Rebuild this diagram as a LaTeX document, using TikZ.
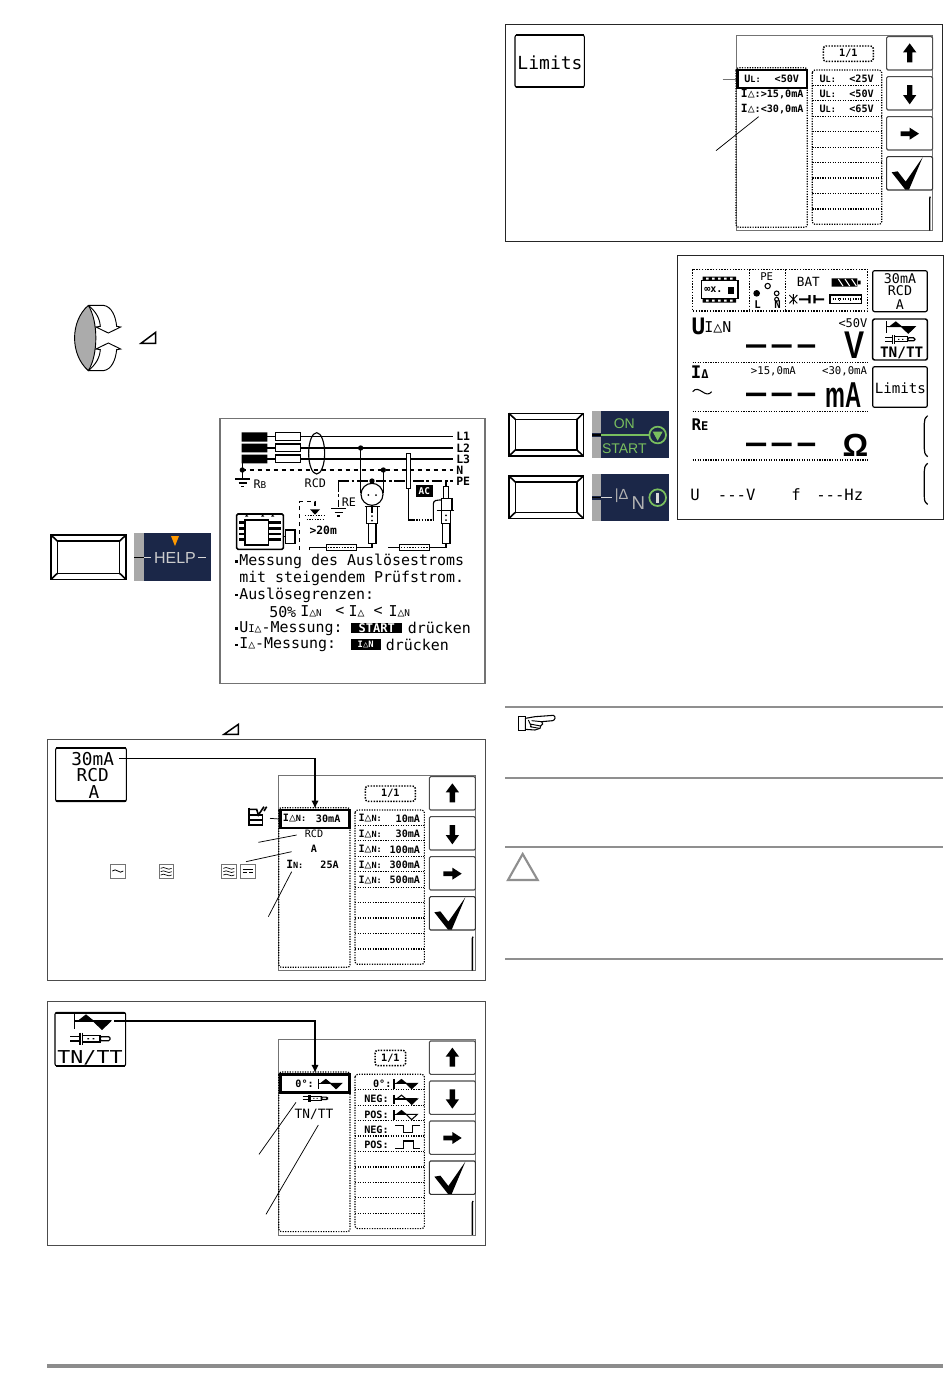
\documentclass[tikz,border=0pt]{standalone}
\usepackage{fontspec}
\usetikzlibrary{arrows.meta}
\setmainfont{Liberation Sans}
\newfontfamily\lcd{DejaVu Sans Mono}
\definecolor{navy}{HTML}{1B2748}
\definecolor{keygray}{HTML}{A9A9A9}
\definecolor{lcdgreen}{HTML}{79BE5E}
\definecolor{ruleg}{HTML}{8F8F8F}
\newcommand{\fsz}[1]{\fontsize{#1}{#1}\selectfont}
\newcommand{\dl}{{\fsz{8.6}△}}
\newcounter{tn}
\newcommand{\lcdt}[4][]{\stepcounter{tn}\node[lt,#1] (t\thetn) at ({#2},{#3}) {#4};}
\tikzset{
  z/.style 2 args={shift={(#1,#2)},x=.25pt,y=-.25pt},
  lt/.style={inner sep=0pt,font=\lcd\fsz{7.6}\bfseries},
  hf/.style={inner sep=0pt,anchor=west,font=\lcd\fsz{11.2}},
  sk/.style={inner sep=0pt,font=\lcd\fsz{13.3}},
  rk/.style={inner sep=0pt,font=\lcd\fsz{10}},
  panel/.style={draw=black!70,line width=.65pt},
  dots/.style={densely dotted,line width=.9pt},
  kl/.style={line width=1.2pt,draw=black},
  leader/.style={line width=.55pt},
  conn/.style={line width=1.1pt,-{Latex[length=6pt,width=5.5pt]}},
  diag/.style={line width=.85pt}
}
% screen with the four side keys
\newcommand{\menuscreen}[5]{\begin{scope}[z={#2}{#3}]
  \draw[draw=black!55,line width=.7pt] (0,0) rectangle (589,587);
  \foreach \yy in {5,125,245}{\draw[draw=black!70,fill=white,line width=.8pt,rounded corners=1pt] (452,\yy) rectangle (590,\yy+100);}
  \draw[draw=black!80,fill=white,line width=.8pt,rounded corners=1pt] (452,365) rectangle (590,465);
  \fill (521,25)--(541,52)--(529,52)--(529,82)--(513,82)--(513,52)--(501,52)--cycle;
  \fill (521,208)--(541,180)--(529,180)--(529,150)--(513,150)--(513,180)--(501,180)--cycle;
  \fill (549,296)--(521,278)--(521,289)--(494,289)--(494,303)--(521,303)--(521,314)--cycle;
  \fill (467,412)--(485,409)--(509,440)--(560,367)--(519,464)--(508,464)--cycle;
  \draw[line width=1pt] (581,587)--(581,490)--(583,485);
  \draw[dots,line width=1.1pt,rounded corners=2pt] (#4,33) rectangle (#5,79);
  \lcdt{(#4+#5)/2}{56}{1/1}
  \draw[dots,rounded corners=2pt] (0,98) rectangle (214,577);
  \draw[dots,rounded corners=2pt] (229,105) rectangle (437,568);
  \foreach \k in {1,...,9}{\draw[dots] (229,105+46.3*\k)--(437,105+46.3*\k);}
  \node[draw,fill=white,line width=1.9pt,minimum width=52pt,minimum height=13.6pt,inner sep=0pt] (#1-sel) at (109,132) {};
\end{scope}}
\newcommand{\softkey}[4]{\draw[line width=.8pt,rounded corners=1.5pt] (#1,#2) rectangle (#3,#4);
  \draw[line width=1.6pt] (#1+2,#2+1)--(#3-2,#2+1); \draw[line width=1.6pt] (#1+2,#4-1)--(#3-2,#4-1);}
\newcommand{\blankkey}[4]{\draw[kl] (#1,#2) rectangle (#3,#4);
  \draw[kl] (#1+19,#2+18) rectangle (#3-19,#4-18);
  \draw[kl] (#1,#2)--(#1+19,#2+18) (#3,#2)--(#3-19,#2+18) (#1,#4)--(#1+19,#4-18) (#3,#4)--(#3-19,#4-18);}
\newcommand{\waveicon}[5]{\begin{scope}[shift={(#1,#2)},scale=#3]
  \draw[line width=.9pt] (0,-20)--(0,25);
  \draw[line width=.8pt,fill=#4] (12,0)--(35,-18)--(57,0)--cycle;
  \draw[line width=.8pt,fill=#5] (57,0)--(83,25)--(109,0)--cycle;
  \draw[line width=.9pt] (0,0)--(109,0);
\end{scope}}
\newcommand{\plugicon}[3]{\begin{scope}[shift={(#1,#2)},scale=#3]
  \draw[line width=.8pt] (-60,-7)--(-30,-7) (-60,7)--(-30,7);
  \draw[line width=1.1pt] (-30,-18)--(-30,18) (-23,-18)--(-23,18);
  \draw[line width=.9pt] (-23,-10) rectangle (30,10);
  \fill (-8,-2) rectangle (-3,2) (8,-2) rectangle (13,2);
  \draw[line width=.9pt,rounded corners=1pt] (30,-6) rectangle (60,6);
\end{scope}}
\newcommand{\navkey}[5]{\fill[navy] (#1,#2) rectangle (#3,#4);
  \fill[keygray] (#1,#2) rectangle (#1+#5,#4);}
\newcommand{\gndsym}[2]{\draw[diag] (#1-23,#2)--(#1+23,#2) (#1-12,#2+12)--(#1+12,#2+12) (#1-4,#2+23)--(#1+4,#2+23);}
\newcommand{\resistor}[3]{\draw[line width=.7pt,fill=white] (#1,#3-8) rectangle (#2,#3+8);
  \draw[line width=1.1pt,densely dotted] (#1+5,#3)--(#2-5,#3);}
\newcommand{\sinewave}[5][.6pt]{\draw[line width=#1] (#2,#3) .. controls (#2+.33*#4,#3-#5) and (#2+.67*#4,#3+#5) .. (#2+#4,#3);}
\begin{document}
\begin{tikzpicture}[x=.75pt,y=-.75pt]
\useasboundingbox (0,0) rectangle (950,1379);
\fill[white] (0,0) rectangle (950,1379);

% ---------------- rotary switch
\begin{scope}[z={65}{298}]
  \draw[line width=.7pt,fill=black!33] (70,22) .. controls (15,70) and (15,170) .. (70,218) .. controls (100,170) and (100,70) .. (70,22);
  \draw[line width=.7pt,fill=white] (70,22)--(115,22) .. controls (140,25) and (152,55) .. (155,85)--(167,87)--(130,105)--(93,87)--(106,85) .. controls (104,60) and (92,40) .. (70,22);
  \draw[line width=.7pt,fill=white] (70,218)--(115,218) .. controls (140,215) and (152,185) .. (155,155)--(167,153)--(130,135)--(93,153)--(106,155) .. controls (104,180) and (92,200) .. (70,218);
\end{scope}
% ---------------- HELP key and help screen
\begin{scope}[z={40}{280}]
  \draw[line width=1.1pt,line join=miter] (303,190)--(347,190)--(347,157)--cycle;
  \blankkey{33}{765}{258}{898}
  \navkey{282}{760}{514}{902}{30}
  \draw[line width=1pt] (282,832)--(312,832);
  \draw[draw=black!15,line width=1pt] (312,832)--(332,832) (474,832)--(497,832);
  \fill[orange!80!yellow] (393,768)--(417,768)--(405,798)--cycle;
  \node[inner sep=0pt,text=black!20,font=\fsz{12}] (helptxt) at (405,834) {HELP};
  % help screen
  \draw[draw=black!55,line width=.8pt] (540,415) rectangle (1335,1210);
  % mains
  \fill (605,457) rectangle (682,485) (605,491) rectangle (682,517) (605,524) rectangle (682,550);
  \draw[diag] (682,470)--(1240,470) (682,504)--(1240,504) (682,537)--(1240,537);
  \draw[diag,fill=white] (706,458) rectangle (782,482) (706,492) rectangle (782,515) (706,525) rectangle (782,548);
  \draw[diag,dashed] (605,570)--(1240,570);
  \draw[diag,dash pattern=on 8pt off 2pt on 2pt off 2pt] (895,603)--(1240,603);
  \draw[diag,dash pattern=on 8pt off 2pt on 2pt off 2pt] (895,603)--(895,680);
  \draw[diag] (830,520) ellipse (24 and 62);
  \draw[diag] (607,550)--(607,597);
  \fill (607,570) circle (8) (962,504) circle (8) (1030,570) circle (8) (996,603) circle (8);
  \gndsym{608}{597}\gndsym{896}{685}
  \lcdt[anchor=west,font=\lcd\fsz{8.8}]{640}{612}{R\fsz{7}B}
  \lcdt[font=\lcd\fsz{8.8}]{826}{610}{RCD}
  \lcdt[anchor=west,font=\lcd\fsz{8.8}]{905}{668}{RE}
  \foreach \tx/\ty in {L1/470,L2/504,L3/537,N/570,PE/603}{\lcdt[anchor=west,font=\lcd\fsz{8.6}\bfseries]{1248}{\ty}{\tx}}
  % socket, left probe
  \draw[diag] (962,504)--(962,640) (1030,570)--(1030,640) (996,603)--(996,615);
  \draw[diag,fill=white] (996,643) circle (33);
  \fill (985,645) circle (3) (1008,645) circle (3);
  \draw[diag] (996,676)--(996,700);
  \draw[line width=1.1pt] (974,680)--(1020,680);
  \draw[diag] (980,680)--(980,730)--(1012,730)--(1012,680) (985,730) rectangle (1008,790);
  \fill (996,708) circle (3) (996,722) circle (3);
  \draw[diag] (996,790)--(996,802)--(948,802);
  \resistor{858}{948}{802}
  \draw[diag] (808,810)--(808,802)--(858,802);
  % right branch
  \draw[diag,fill=white] (1100,520) rectangle (1112,625);
  \draw[diag] (1106,625)--(1106,720)--(1120,720);
  \draw[line width=1.1pt,densely dotted] (1120,720)--(1180,720);
  \draw[diag] (1180,720)--(1180,672) (1180,672) .. controls (1180,660) and (1190,660) .. (1208,660);
  \draw[diag] (1218,603)--(1218,620);
  \draw[diag,fill=white] (1210,620) rectangle (1226,655);
  \draw[diag,fill=white] (1204,655) rectangle (1236,692);
  \draw[line width=1.1pt] (1190,692)--(1242,692);
  \draw[diag,fill=white] (1204,692) rectangle (1232,730);
  \draw[diag,fill=white] (1208,730) rectangle (1230,790);
  \fill (1218,706) circle (3) (1218,720) circle (3);
  \draw[diag] (1218,790)--(1218,802)--(1168,802);
  \resistor{1078}{1168}{802}
  \draw[diag] (1045,802)--(1078,802);
  \fill (1128,615) rectangle (1178,650);
  \lcdt[text=white,font=\lcd\fsz{7}\bfseries]{1153}{633}{AC}
  % earth electrode
  \draw[diag,dashed] (778,810)--(778,665)--(825,665)--(825,690);
  \fill (825,704)--(810,688)--(840,688)--cycle;
  \draw[line width=1pt,densely dotted] (795,707)--(855,707);
  \draw[line width=1pt,densely dotted] (800,718)--(850,718);
  \lcdt[anchor=west,font=\lcd\fsz{8.5}\bfseries]{808}{751}{>20m}
  % instrument
  \draw[line width=1.2pt,rounded corners=1pt] (590,702) rectangle (730,808);
  \draw[line width=1pt] (615,720) rectangle (685,795);
  \foreach \yb in {728,745,762,779}{\draw[line width=1.8pt] (597,\yb)--(615,\yb) (688,\yb)--(722,\yb);}
  \draw[line width=1pt,fill=white] (737,750) rectangle (765,790);
  \draw[line width=1pt] (730,770)--(737,770);
  \foreach \xb in {620,668,698}{\fill (\xb,703)--(\xb-5,710)--(\xb+5,710)--cycle;}
  % help text
  \foreach \yb in {845,945,1045,1095}{\fill (584,\yb-4) rectangle (593,\yb+4);}
  \lcdt[hf]{597}{845}{Messung des Auslösestroms}
  \lcdt[hf]{597}{895}{mit steigendem Prüfstrom.}
  \lcdt[hf]{597}{945}{Auslösegrenzen:}
  \lcdt[hf]{687}{995}{50\%}
  \lcdt[hf]{780}{995}{I\dl{}\fsz{7}N}
  \lcdt[hf]{885}{995}{<}
  \lcdt[hf]{925}{995}{I\dl}
  \lcdt[hf]{1000}{995}{<}
  \lcdt[hf]{1045}{995}{I\dl{}\fsz{7}N}
  \lcdt[hf]{597}{1045}{U\fsz{8}I\dl{}\fsz{11.2}-Messung:}
  \fill (933,1028) rectangle (1087,1060);
  \lcdt[text=white,font=\lcd\fsz{9}\bfseries]{1010}{1044}{START}
  \lcdt[hf]{1103}{1045}{drücken}
  \lcdt[hf]{597}{1095}{I\dl{}-Messung:}
  \fill (933,1078) rectangle (1022,1110);
  \lcdt[text=white,font=\lcd\fsz{6.6}\bfseries]{977}{1094}{I{\fsz{6.6}△}N}
  \lcdt[hf]{1037}{1095}{drücken}
\end{scope}

% ---------------- panel 1
\begin{scope}[z={40}{715}]
  \draw[line width=1.1pt,line join=miter] (552,58)--(595,58)--(595,28)--cycle;
  \draw[panel] (22,72) rectangle (1335,795);
\end{scope}
\menuscreen{a}{278.7}{775}{260}{410}
\begin{scope}[z={40}{715}]
  \softkey{47}{98}{259}{260}
  \lcdt[sk]{158}{132}{30mA}
  \lcdt[sk]{158}{180}{RCD}
  \lcdt[sk]{162}{232}{A}
  \coordinate (a1) at (238,130);
  \draw[conn] (a1) -| (a-sel.north);
  \foreach \row/\val in {310/10mA,357/30mA,403/100mA,449/300mA,495/500mA}{
    \lcdt[anchor=west]{955}{\row}{I\dl{}\fsz{6.4}N:}
    \lcdt[anchor=east]{1141}{\row}{\val}}
  \lcdt[anchor=west]{728}{310}{I\dl{}\fsz{6.4}N:}
  \lcdt[anchor=east]{902}{310}{30mA}
  \lcdt[font=\lcd\fsz{7.6}]{822}{357}{RCD}
  \lcdt{822}{402}{A}
  \lcdt[anchor=west]{738}{448}{\fsz{8.5}I\fsz{6.4}N:}
  \lcdt[anchor=east]{897}{448}{25A}
  % memory icon
  \draw[line width=1.2pt] (627,278)--(627,330)--(668,330)--(668,300)--(627,300) (627,315)--(668,315);
  \draw[line width=1.2pt] (627,283)--(650,283)--(655,300)--(672,275)(680,275)--(672,288);
  \coordinate (a2) at (690,310); \draw[leader] (a2)--(a-sel.west);
  \coordinate (a3) at (655,382); \coordinate (a4) at (770,360); \draw[leader] (a3)--(a4);
  \coordinate (a5) at (618,440); \coordinate (a6) at (755,410); \draw[leader] (a5)--(a6);
  \coordinate (a7) at (685,605); \coordinate (a8) at (755,470); \draw[leader] (a7)--(a8);
  % current types
  \foreach \xb in {212,357,545,602}{\draw[draw=black!55,line width=.7pt] (\xb,447) rectangle (\xb+43,490);}
  \sinewave{217}{468}{33}{12}
  \foreach \xb in {362,550}{\sinewave[.5pt]{\xb}{460}{33}{9}\sinewave[.5pt]{\xb}{470}{33}{9}\sinewave[.5pt]{\xb}{480}{33}{9}}
  \draw[line width=.7pt] (608,464)--(640,464); \draw[line width=.7pt,densely dashed] (608,473)--(640,473);
\end{scope}

% ---------------- panel 2
\begin{scope}[z={40}{995}] \draw[panel] (22,18) rectangle (1335,750); \end{scope}
\menuscreen{b}{278.7}{1039.3}{289}{381}
\begin{scope}[z={40}{995}]
  \softkey{45}{52}{257}{213}
  \waveicon{103}{78}{1}{black}{black}
  \plugicon{150}{131}{1}
  \lcdt[sk,font=\lcd\fsz{13.3},xscale=1.22]{150}{188}{TN/TT}
  \coordinate (b1) at (222,78);
  \draw[conn] (b1) -| (b-sel.north);
  \lcdt[anchor=east]{822}{265}{0°:}
  \waveicon{835}{265}{.64}{black}{black}
  \plugicon{825}{310}{.62}
  \lcdt[font=\lcd\fsz{9.6}]{822}{358}{TN/TT}
  \coordinate (b2) at (657,478); \coordinate (b3) at (768,322); \draw[leader] (b2)--(b3);
  \coordinate (b4) at (678,658); \coordinate (b5) at (835,390); \draw[leader] (b4)--(b5);
  \lcdt[anchor=east]{1055}{265}{0°:}
  \waveicon{1062}{265}{.64}{black}{black}
  \lcdt[anchor=west]{972}{312}{NEG:}
  \waveicon{1062}{312}{.64}{white}{black}
  \lcdt[anchor=west]{972}{358}{POS:}
  \waveicon{1062}{358}{.64}{black}{white}
  \lcdt[anchor=west]{972}{403}{NEG:}
  \draw[line width=.9pt] (1065,392)--(1090,392)--(1090,412)--(1118,412)--(1118,392)--(1140,392);
  \lcdt[anchor=west]{972}{450}{POS:}
  \draw[line width=.9pt] (1065,460)--(1090,460)--(1090,438)--(1120,438)--(1120,460)--(1140,460);
\end{scope}

% ---------------- panel 3
\begin{scope}[z={500}{20}] \draw[draw=black!85,line width=.65pt] (15,12) rectangle (1328,663); \end{scope}
\menuscreen{c}{736}{35}{262}{412}
\begin{scope}[z={500}{20}]
  \softkey{45}{45}{253}{202}
  \lcdt[sk,font=\lcd\fsz{13.5}]{150}{128}{Limits}
  \lcdt[anchor=west]{732}{176}{U\fsz{6.4}L:}
  \lcdt[anchor=east]{898}{176}{<50V}
  \lcdt[anchor=west]{722}{221}{\fsz{8.5}I\dl{}\fsz{7.6}:>15,0mA}
  \lcdt[anchor=west]{722}{267}{\fsz{8.5}I\dl{}\fsz{7.6}:<30,0mA}
  \foreach \row/\val in {176/25V,222/50V,267/65V}{
    \lcdt[anchor=west]{958}{\row}{U\fsz{6.4}L:}
    \lcdt[anchor=east]{1122}{\row}{<\val}}
  \coordinate (c1) at (668,177); \draw[leader,draw=black!55] (c1)--(c-sel.west);
  \coordinate (c2) at (648,392); \coordinate (c3) at (776,290); \draw[leader] (c2)--(c3);
\end{scope}

% ---------------- measuring display, keys
\begin{scope}[z={500}{250}]
  \blankkey{27}{490}{250}{618}
  \blankkey{27}{678}{250}{805}
  \navkey{276}{484}{508}{623}{27}
  \fill[navy] (276,550) rectangle (303,561);
  \draw[line width=1pt] (276,555)--(303,555);
  \draw[draw=lcdgreen,line width=1.5pt] (303,555)--(448,555);
  \draw[draw=lcdgreen,line width=1.3pt] (473,555) circle (25);
  \fill[lcdgreen] (458,545)--(488,545)--(473,572)--cycle;
  \node[inner sep=0pt,text=lcdgreen,font=\fsz{10.5}] (ontxt) at (373,522) {ON};
  \node[inner sep=0pt,text=lcdgreen,font=\fsz{10.5}] (starttxt) at (373,595) {START};
  \navkey{276}{673}{508}{812}{27}
  \fill[navy] (276,738) rectangle (303,749);
  \draw[line width=1pt] (276,743)--(303,743);
  \draw[draw=black!15,line width=1pt] (303,743)--(335,743);
  \node[inner sep=0pt,text=black!30,font=\fsz{11}] (idtxt) at (365,738) {|Δ};
  \node[inner sep=0pt,text=black!30,font=\fsz{14}] (idn) at (415,760) {N};
  \draw[draw=lcdgreen,line width=1.3pt] (473,743) circle (25);
  \draw[draw=black!15,line width=2pt] (473,728)--(473,758);
  % screen
  \draw[draw=black!85,line width=.7pt] (533,15) rectangle (1330,808);
  \draw[dots,line width=1.1pt] (578,58) rectangle (1103,183);
  \draw[dots,line width=1.1pt] (748,58)--(748,183) (857,58)--(857,183);
  % chip icon
  \draw[line width=1.1pt] (604,92) rectangle (714,146);
  \fill (608,80) rectangle (708,92) (608,146) rectangle (708,158);
  \foreach \xb in {622,640,658,676,694}{\fill[white] (\xb-4,83) rectangle (\xb+4,89) (\xb-4,149) rectangle (\xb+4,155);}
  \lcdt[font=\lcd\fsz{7.6}\bfseries,anchor=west]{612}{120}{∞x.}
  \fill (685,110) rectangle (702,132);
  % PE-L-N
  \lcdt[font=\lcd\fsz{8}]{800}{80}{PE}
  \draw[line width=.8pt] (803,108) circle (8) (830,130) circle (7) (830,148) circle (6);
  \fill (770,130) circle (10);
  \lcdt[font=\lcd\fsz{8}\bfseries]{773}{165}{L}
  \lcdt[font=\lcd\fsz{8}\bfseries]{833}{165}{N}
  % BAT
  \lcdt[font=\lcd\fsz{9.5}]{925}{97}{BAT}
  \fill (995,85) rectangle (1072,110) (1074,92) rectangle (1082,103);
  \foreach \xb in {1015,1035,1055}{\draw[white,line width=.8pt] (\xb,87)--(\xb+14,108);}
  \draw[line width=.7pt] (868,135)--(892,160) (868,160)--(892,135) (880,132)--(880,163);
  \fill (897,145) rectangle (925,151) (925,135) rectangle (932,160) (940,135) rectangle (947,160) (947,145) rectangle (972,151);
  \draw[line width=.9pt] (990,135) rectangle (1085,160);
  \draw[line width=.9pt,densely dotted] (1018,135)--(1018,160) (1052,135)--(1052,160) (990,147)--(1085,147);
  % softkeys
  \draw[line width=.9pt,rounded corners=1.5pt] (1118,62) rectangle (1282,185);
  \draw[line width=1.1pt,rounded corners=1.5pt] (1118,207) rectangle (1282,330);
  \draw[line width=.9pt,rounded corners=1.5pt] (1118,350) rectangle (1282,472);
  \lcdt[rk]{1200}{85}{30mA}\lcdt[rk]{1200}{122}{RCD}\lcdt[rk]{1200}{165}{A}
  \waveicon{1160}{230}{.78}{black}{black}
  \plugicon{1200}{268}{.75}
  \lcdt[rk,font=\lcd\fsz{10.8}\bfseries]{1205}{310}{TN/TT}
  \lcdt[rk,font=\lcd\fsz{10.6}]{1201}{415}{Limits}
  % rows
  \node[inner sep=0pt,anchor=west,font=\lcd\fsz{17}\bfseries] (u1) at (574,228) {U};
  \node[inner sep=0pt,anchor=west,font=\lcd\fsz{11.2}] (u2) at (612,232) {I{\fsz{11.2}△}N};
  \lcdt[anchor=east,font=\lcd\fsz{9}]{1103}{220}{<50V}
  \node[inner sep=0pt,font=\bfseries\fsz{29},xscale=.78] (bigv) at (1064,286) {V};
  \draw[dots] (578,338)--(1103,338);
  \node[inner sep=0pt,anchor=west,font=\lcd\fsz{13}\bfseries] (i1) at (572,368) {I\fsz{9}Δ};
  \sinewave[.8pt]{578}{425}{57}{24}
  \lcdt[anchor=west,font=\lcd\fsz{8}]{752}{363}{>15,0mA}
  \lcdt[anchor=east,font=\lcd\fsz{8}]{1102}{363}{<30,0mA}
  \node[inner sep=0pt,anchor=east,font=\bfseries\fsz{27},xscale=.62] (bigma) at (1086,434) {mA};
  \draw[dots] (578,484)--(1103,484);
  \node[inner sep=0pt,anchor=west,font=\lcd\fsz{12}\bfseries] (re1) at (574,525) {R\fsz{9}E};
  \node[inner sep=0pt,font=\bfseries\fsz{24}] (ohm) at (1066,586) {Ω};
  \draw[dots] (578,630)--(1103,630);
  \foreach \yb in {288,433,583}{\fill (738,\yb-5) rectangle (798,\yb+5) (815,\yb-5) rectangle (875,\yb+5) (893,\yb-5) rectangle (945,\yb+5);}
  \lcdt[anchor=west,font=\lcd\fsz{11.7}]{570}{735}{U}
  \lcdt[anchor=west,font=\lcd\fsz{11.7}]{653}{735}{---V}
  \lcdt[anchor=west,font=\lcd\fsz{11.7}]{873}{735}{f}
  \lcdt[anchor=west,font=\lcd\fsz{11.7}]{948}{735}{---Hz}
  \draw[line width=.9pt] (1283,497) .. controls (1274,505) and (1273,510) .. (1273,520)--(1273,597) .. controls (1273,608) and (1274,612) .. (1283,620);
  \draw[line width=.9pt] (1283,640) .. controls (1274,648) and (1273,653) .. (1273,663)--(1273,740) .. controls (1273,752) and (1274,756) .. (1283,763);
\end{scope}

% ---------------- notes
\begin{scope}[z={500}{700}]
  \foreach \yb in {22,233,440,778}{\draw[draw=ruleg,line width=1.3pt] (15,\yb)--(1328,\yb);}
  \draw[line width=.8pt,fill=white] (56,50) rectangle (76,92);
  \draw[line width=.8pt,fill=white] (76,55)--(105,50)--(160,46) .. controls (168,50) and (166,60) .. (158,62)--(125,65)--(128,72)--(122,78)--(120,85)--(105,90)--(76,88)--cycle;
  \draw[line width=.7pt] (95,62)--(125,65) (90,72)--(122,78) (90,80)--(118,85) (85,60)--(95,82);
  \draw[draw=ruleg,line width=1.6pt,line join=miter] (68,462)--(113,540)--(24,540)--cycle;
\end{scope}

% page foot
\coordinate (f1) at (47,1366); \coordinate (f2) at (943,1366);
\draw[draw=black!45,line width=2.6pt] (f1)--(f2);
\end{tikzpicture}
\end{document}
